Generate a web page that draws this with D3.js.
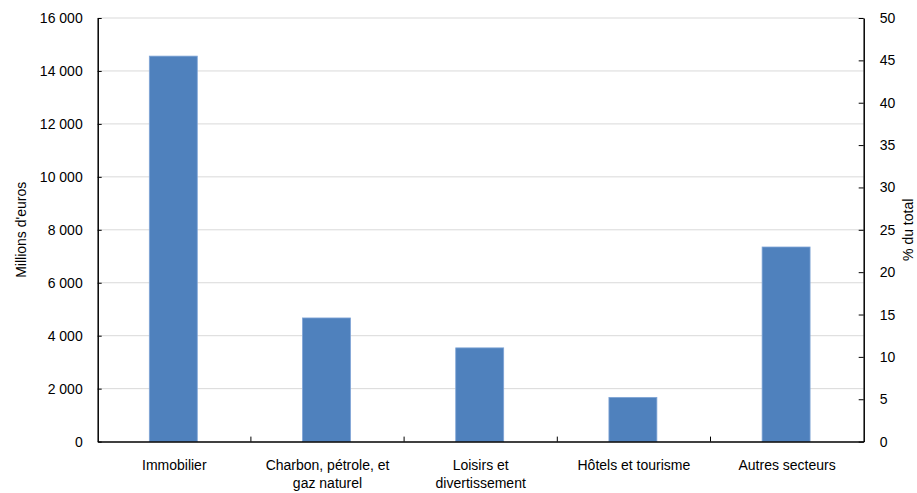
<!DOCTYPE html>
<html><head><meta charset="utf-8">
<script src="https://cdn.jsdelivr.net/npm/d3@7"></script>
<style>body{margin:0;background:#fff}svg{font-family:"Liberation Sans",Arial,sans-serif}</style>
</head><body><svg id="c" width="917" height="493"></svg>
<script>
const categories = [["Immobilier"], ["Charbon, pétrole, et", "gaz naturel"], ["Loisirs et", "divertissement"], ["Hôtels et tourisme"], ["Autres secteurs"]];
const values = [14560, 4670, 3540, 1670, 7350];
const leftTicks = [0, 2000, 4000, 6000, 8000, 10000, 12000, 14000, 16000];
const rightTicks = [0, 5, 10, 15, 20, 25, 30, 35, 40, 45, 50];

const svg = d3.select("#c");
const L = 97.7, R = 863.7, T = 18, B = 441.6;
const x = d3.scaleBand().domain(d3.range(categories.length)).range([L, R]);
const y = d3.scaleLinear().domain([0, 16000]).range([B, T]);
const y2 = d3.scaleLinear().domain([0, 50]).range([B, T]);
const fmt = v => d3.format(",")(v).replace(/,/g, " ");

// gridlines
svg.append("g").selectAll("line").data(leftTicks.filter(d => d > 0)).join("line")
  .attr("x1", L).attr("x2", R).attr("y1", d => y(d)).attr("y2", d => y(d))
  .attr("stroke", "#d9d9d9").attr("stroke-width", 1);

// bars
const bw = x.bandwidth() * 0.313;
svg.append("g").selectAll("rect").data(values).join("rect")
  .attr("x", (d, i) => x(i) + x.bandwidth() / 2 - bw / 2 - 1)
  .attr("width", bw).attr("y", d => y(d)).attr("height", d => B - y(d))
  .attr("fill", "#4f81bd").attr("stroke", "#7fa4d6").attr("stroke-width", 0.8);

// left axis
const la = svg.append("g").attr("transform", `translate(${L},0)`)
  .call(d3.axisLeft(y).tickValues(leftTicks).tickFormat(fmt).tickSizeInner(-4).tickSizeOuter(0).tickPadding(15));
// right axis
const ra = svg.append("g").attr("transform", `translate(${R},0)`)
  .call(d3.axisRight(y2).tickValues(rightTicks).tickSizeInner(-5).tickSizeOuter(0).tickPadding(16));
// bottom axis
const ba = svg.append("g").attr("transform", `translate(0,${B})`)
  .call(d3.axisBottom(x).tickValues([]).tickSizeOuter(0));
ba.selectAll(".sep").data(d3.range(1, categories.length)).join("line")
  .attr("x1", i => x(i)).attr("x2", i => x(i)).attr("y1", 0).attr("y2", -5).attr("stroke", "#000");

[la, ra, ba].forEach(g => {
  g.selectAll("path.domain").attr("stroke", "#000").attr("stroke-width", 1.5);
  g.selectAll(".tick line").attr("stroke", "#000");
  g.selectAll("text").attr("font-size", 14).attr("fill", "#000").attr("font-family", "Liberation Sans, Arial, sans-serif");
});

// category labels
const cl = svg.append("g");
categories.forEach((lines, i) => {
  const t = cl.append("text").attr("text-anchor", "middle").attr("font-size", 14)
    .attr("x", x(i) + x.bandwidth() / 2).attr("y", 470);
  lines.forEach((s, j) => t.append("tspan").attr("x", x(i) + x.bandwidth() / 2).attr("dy", j ? 17.5 : 0).text(s));
});

// axis titles
svg.append("text").attr("transform", `translate(26,${(T + B) / 2}) rotate(-90)`)
  .attr("text-anchor", "middle").attr("font-size", 14).text("Millions d'euros");
svg.append("text").attr("transform", `translate(913,${(T + B) / 2}) rotate(-90)`)
  .attr("text-anchor", "middle").attr("font-size", 14).text("% du total");
</script></body></html>
